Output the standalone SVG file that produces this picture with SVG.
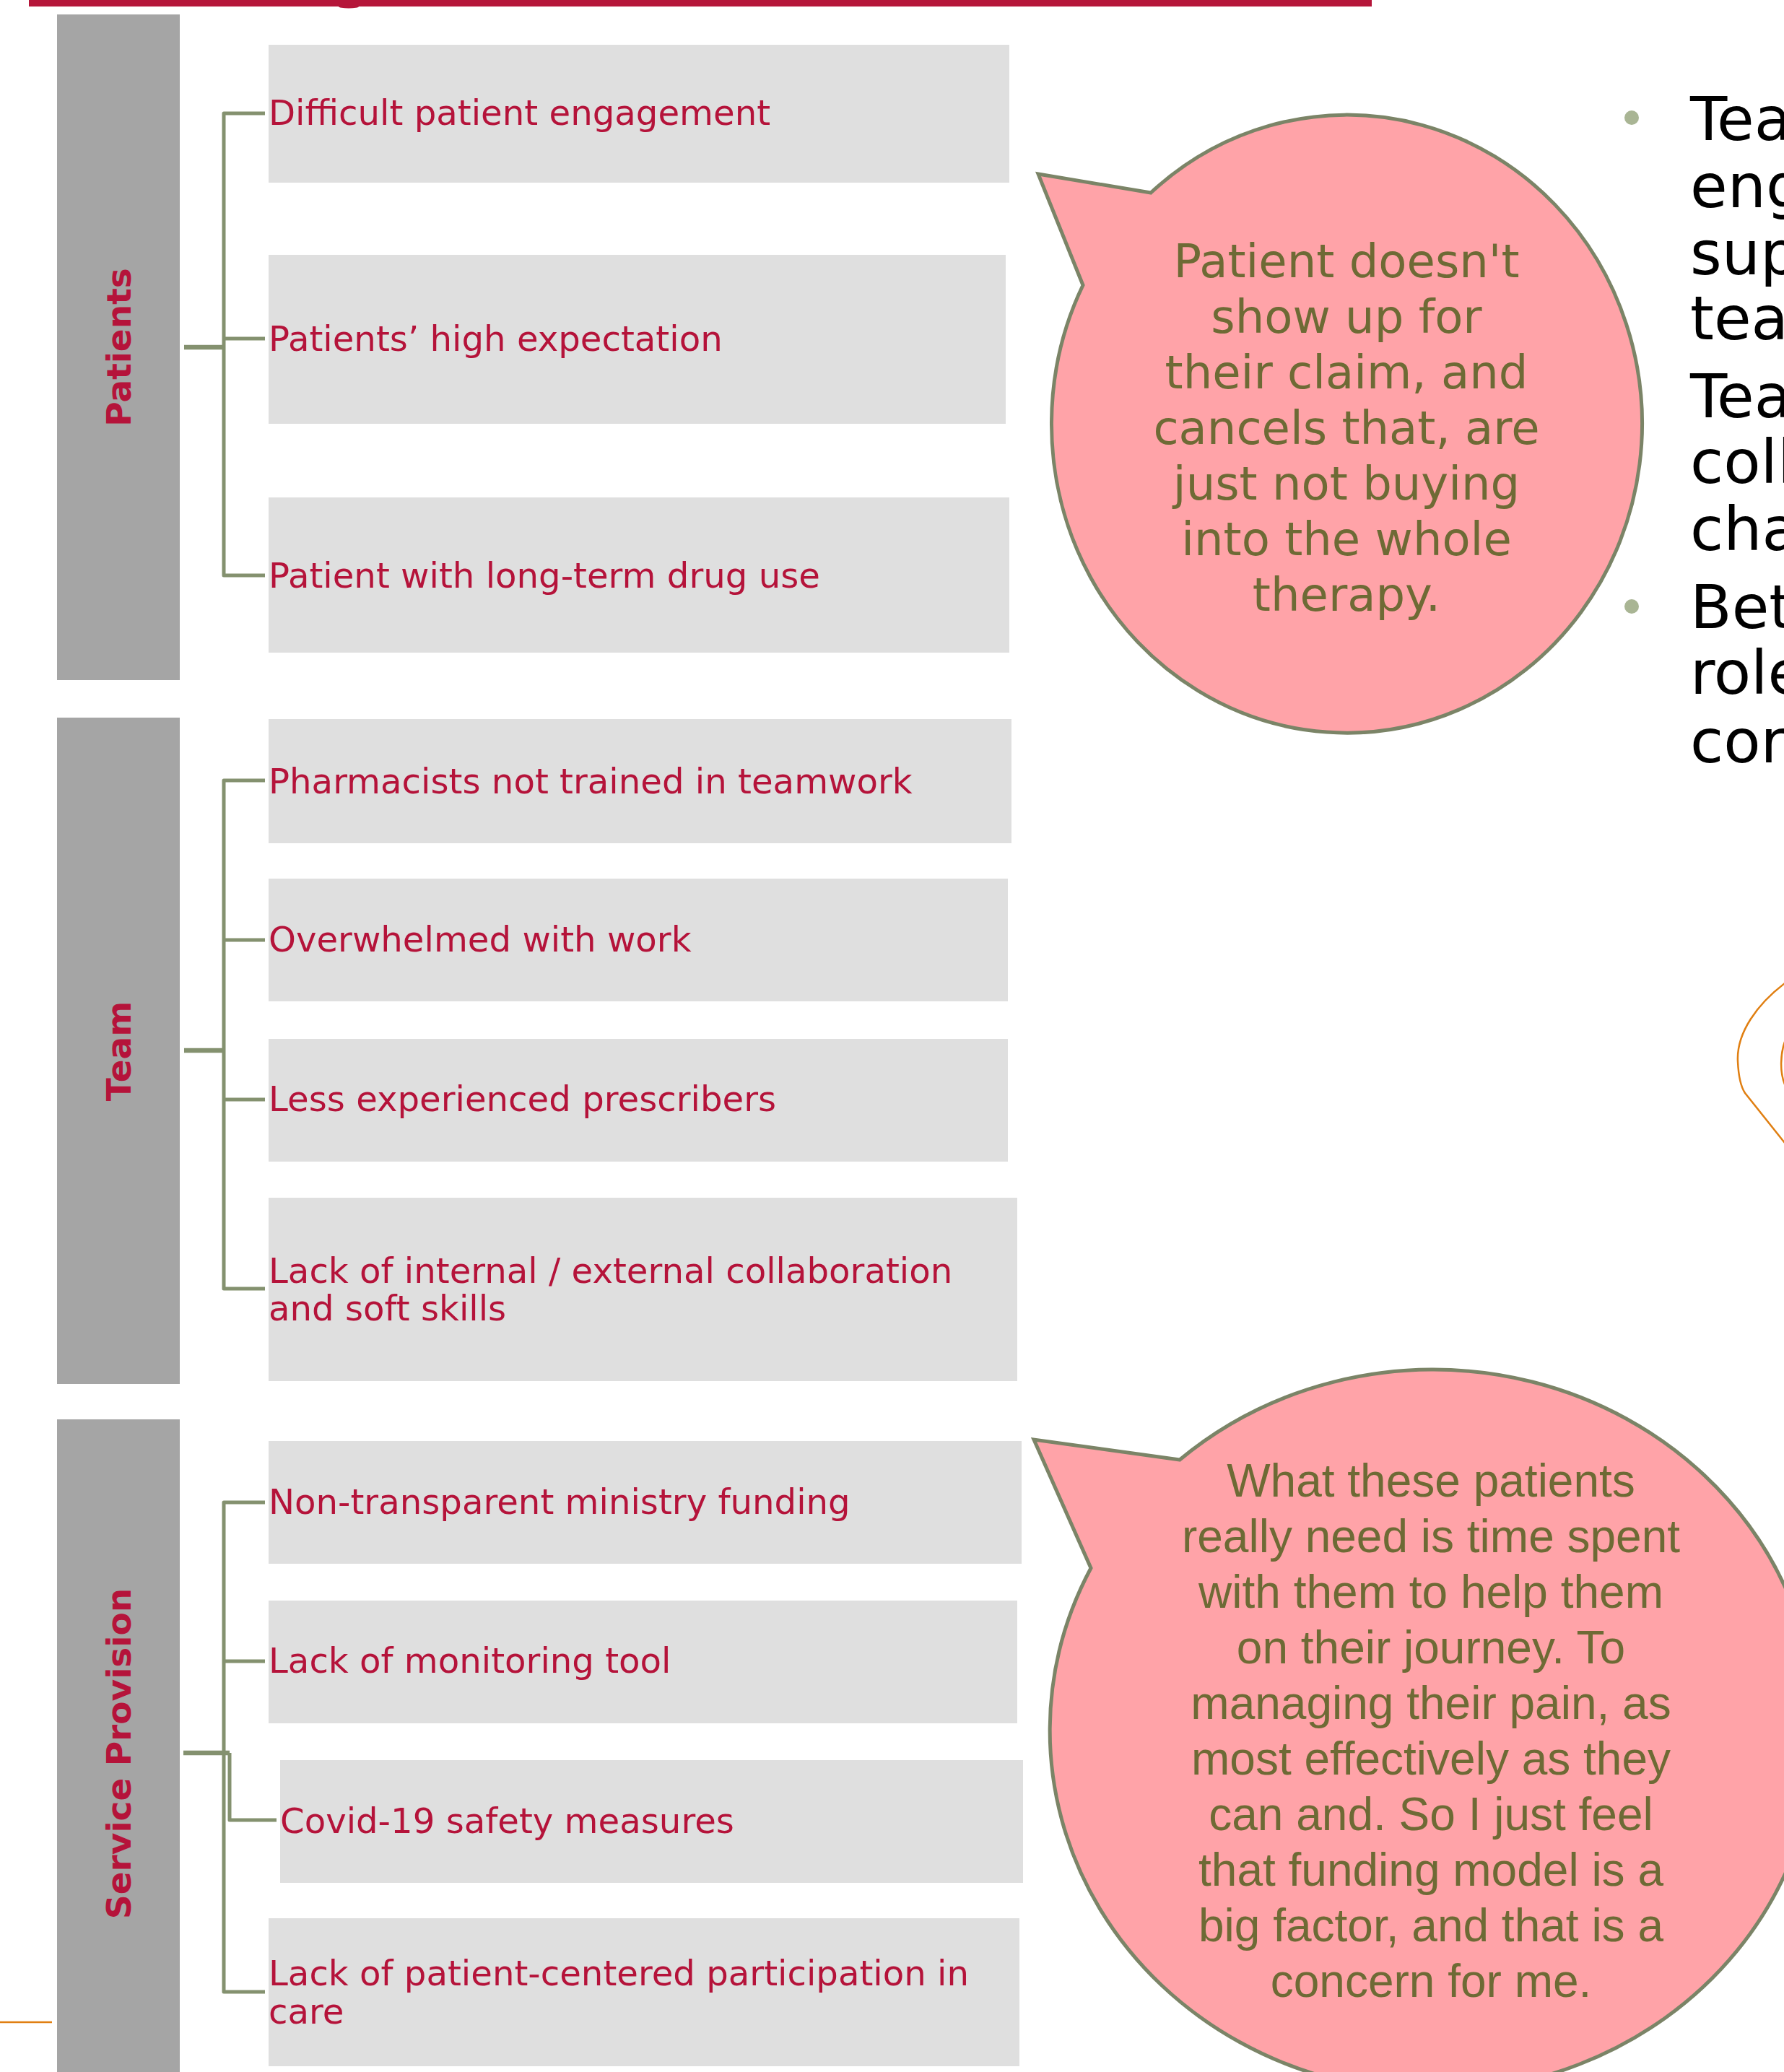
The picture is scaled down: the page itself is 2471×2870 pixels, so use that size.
<svg xmlns="http://www.w3.org/2000/svg" width="2471" height="2870" viewBox="0 0 2471 2870">
<style>
.bar{fill:#a5a5a5}
.box{fill:#dfdfdf}
.item{font-family:"DejaVu Sans",Verdana,sans-serif;font-size:48.2px;fill:#b5133a}
.lbl{font-family:"DejaVu Sans",Verdana,sans-serif;font-weight:bold;font-size:47px;fill:#b5133a;text-anchor:middle}
.conn{stroke:#84916f;stroke-width:5;fill:none;stroke-linejoin:round}
.stub{stroke:#84916f;stroke-width:6.5;fill:none}
.bubble{fill:#ffa3a8;stroke:#7b8467;stroke-width:5}
.q1{font-family:"DejaVu Sans",Verdana,sans-serif;font-size:64px;fill:#6e6a35;text-anchor:middle}
.q2{font-family:"Liberation Sans",Arial,sans-serif;font-size:64px;fill:#6e6a35;text-anchor:middle}
.side{font-family:"DejaVu Sans",Verdana,sans-serif;font-size:84px;fill:#000000}
.dot{fill:#a9b594}
.orange{stroke:#e07f12;stroke-width:2.5;fill:none}
</style>
<rect width="2471" height="2870" fill="#ffffff"/>
<g id="header">
<rect x="40" y="0" width="1860" height="9" fill="#b5163a"/>
<ellipse cx="483" cy="9" rx="14" ry="2.5" fill="#b5163a"/>
</g>
<g id="connectors">
<path class="conn" d="M367,157 H310 V797 H367 M310,469 H367"/>
<path class="stub" d="M255,481 H310"/>
<path class="conn" d="M367,1081 H310 V1785 H367 M310,1302 H367 M310,1523 H367"/>
<path class="stub" d="M255,1455 H310"/>
<path class="conn" d="M367,2081 H310 V2759 H367 M310,2301 H367"/>
<path class="stub" d="M254,2428 H318"/>
<path class="conn" d="M318,2428 V2521 H383"/>
</g>
<g id="cat-patients">
<rect class="bar" x="79" y="20" width="170" height="922"/>
<text class="lbl" transform="translate(164,481) rotate(-90)" y="17">Patients</text>
</g>
<g id="p1"><rect class="box" x="372" y="62" width="1026" height="191"/><text class="item" x="372" y="173">Difficult patient engagement</text></g>
<g id="p2"><rect class="box" x="372" y="353" width="1021" height="234"/><text class="item" x="372" y="486">Patients’ high expectation</text></g>
<g id="p3"><rect class="box" x="372" y="689" width="1026" height="215"/><text class="item" x="372" y="814">Patient with long-term drug use</text></g>
<g id="cat-team">
<rect class="bar" x="79" y="994" width="170" height="923"/>
<text class="lbl" transform="translate(164,1456) rotate(-90)" y="17">Team</text>
</g>
<g id="t1"><rect class="box" x="372" y="996" width="1029" height="172"/><text class="item" x="372" y="1099">Pharmacists not trained in teamwork</text></g>
<g id="t2"><rect class="box" x="372" y="1217" width="1024" height="170"/><text class="item" x="372" y="1318">Overwhelmed with work</text></g>
<g id="t3"><rect class="box" x="372" y="1439" width="1024" height="170"/><text class="item" x="372" y="1539">Less experienced prescribers</text></g>
<g id="t4"><rect class="box" x="372" y="1659" width="1037" height="254"/><text class="item" x="372" y="1777">Lack of internal / external collaboration</text><text class="item" x="372" y="1829">and soft skills</text></g>
<g id="cat-service">
<rect class="bar" x="79" y="1966" width="170" height="904"/>
<text class="lbl" transform="translate(164,2429) rotate(-90)" y="17">Service Provision</text>
</g>
<g id="s1"><rect class="box" x="372" y="1996" width="1043" height="170"/><text class="item" x="372" y="2097">Non-transparent ministry funding</text></g>
<g id="s2"><rect class="box" x="372" y="2217" width="1037" height="170"/><text class="item" x="372" y="2317">Lack of monitoring tool</text></g>
<g id="s3"><rect class="box" x="388" y="2438" width="1029" height="170"/><text class="item" x="388" y="2539">Covid-19 safety measures</text></g>
<g id="s4"><rect class="box" x="372" y="2657" width="1040" height="205"/><text class="item" x="372" y="2750">Lack of patient-centered participation in</text><text class="item" x="372" y="2803">care</text></g>
<g id="quote1">
<path class="bubble" d="M1594,267 L1438,241 L1500,395 A409,428 0 1 0 1594,267 Z"/>
<text class="q1" x="1865" y="384">Patient doesn't</text>
<text class="q1" x="1865" y="461">show up for</text>
<text class="q1" x="1865" y="538">their claim, and</text>
<text class="q1" x="1865" y="615">cancels that, are</text>
<text class="q1" x="1865" y="692">just not buying</text>
<text class="q1" x="1865" y="769">into the whole</text>
<text class="q1" x="1865" y="846">therapy.</text>
</g>
<g id="quote2">
<path class="bubble" d="M1634,2022 L1432,1994 L1511,2172 A531,500 0 1 0 1634,2022 Z"/>
<text class="q2" x="1982" y="2073">What these patients</text>
<text class="q2" x="1982" y="2150">really need is time spent</text>
<text class="q2" x="1982" y="2227">with them to help them</text>
<text class="q2" x="1982" y="2304">on their journey. To</text>
<text class="q2" x="1982" y="2381">managing their pain, as</text>
<text class="q2" x="1982" y="2458">most effectively as they</text>
<text class="q2" x="1982" y="2535">can and. So I just feel</text>
<text class="q2" x="1982" y="2612">that funding model is a</text>
<text class="q2" x="1982" y="2689">big factor, and that is a</text>
<text class="q2" x="1982" y="2766">concern for me.</text>
</g>
<g id="side-text">
<circle class="dot" cx="2260" cy="163" r="10"/>
<circle class="dot" cx="2260" cy="840" r="10"/>
<text class="side" x="2341" y="194">Tea</text>
<text class="side" x="2341" y="287">eng</text>
<text class="side" x="2341" y="380">sup</text>
<text class="side" x="2341" y="470">tea</text>
<text class="side" x="2341" y="578">Tea</text>
<text class="side" x="2341" y="669">coll</text>
<text class="side" x="2341" y="762">cha</text>
<text class="side" x="2341" y="870">Bet</text>
<text class="side" x="2341" y="961">role</text>
<text class="side" x="2341" y="1056">cor</text>
</g>
<g id="decor">
<path class="orange" d="M2472,1362 C2435,1390 2405,1430 2407,1470 C2408,1492 2411,1505 2417,1514 L2472,1583"/>
<path class="orange" d="M2472,1443 C2466,1460 2465,1485 2472,1502"/>
<path class="orange" d="M0,2801 H72"/>
</g>
</svg>
